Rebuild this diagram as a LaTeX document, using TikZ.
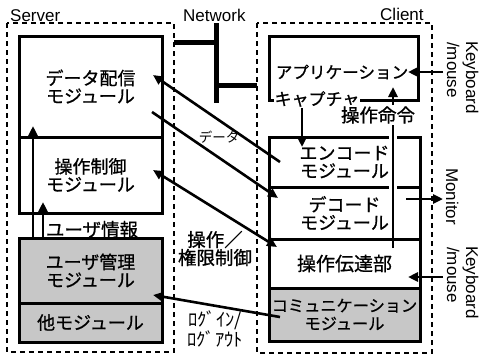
\documentclass[tikz,border=0pt]{standalone}
\usepackage{fontspec}
\setmainfont{Liberation Sans}
\newfontfamily\jp[FakeBold=0.9]{Noto Sans CJK JP}
\newfontfamily\jpl{Noto Sans CJK JP}
\usetikzlibrary{arrows.meta}
\begin{document}
\begin{tikzpicture}[x=1pt,y=-1pt,
  mod/.style={draw,line width=3pt,inner sep=0pt,outer sep=0pt,align=center,font=\jp\fontsize{18}{18}\selectfont},
  gr/.style={fill=black!22},
  frame/.style={draw,dash pattern=on 5pt off 4pt,line width=1.3pt},
  arr/.style={line width=2.6pt,-{Triangle[length=10pt,width=9pt]}},
  darr/.style={line width=2.6pt,{Triangle[length=10pt,width=9pt]}-{Triangle[length=10pt,width=9pt]}},
  lab/.style={font=\jp\fontsize{18.5}{18}\selectfont,align=center,inner sep=1pt},
  en/.style={font=\fontsize{17}{18}\selectfont,inner sep=0pt},
  bar/.style={line width=5pt},
]
\useasboundingbox (0,0) rectangle (479,356);
\fill[white] (0,0) rectangle (479,356);

% dashed frames
\draw[frame] (7,23) rectangle (174,352);
\draw[frame] (257,23) rectangle (432,353);

% network bars
\draw[bar] (174,42) -- (216,42);
\draw[bar] (216,23) -- (216,103);
\draw[bar] (216,85) -- (257,85);

% titles
\node[en,anchor=base west] (tsrv) at (10,21) {Server};
\node[en,anchor=base west] (tnet) at (183,21) {Network};
\node[en,anchor=base west] (tcli) at (380,20) {Client};
\node[en,anchor=base west,rotate=-90] (kb1a) at (466,41) {Keyboard};
\node[en,anchor=base west,rotate=-90] (kb1b) at (447,42) {/mouse};
\node[en,anchor=base west,rotate=-90] (mon) at (446,168) {Monitor};
\node[en,anchor=base west,rotate=-90] (kb2a) at (466,246) {Keyboard};
\node[en,anchor=base west,rotate=-90] (kb2b) at (447,247) {/mouse};

% server modules
\node[mod,minimum width=143pt,minimum height=101pt] (data) at (90.5,86.5) {データ配信\\モジュール};
\node[mod,minimum width=143pt,minimum height=76pt] (ctrl) at (90.5,175) {操作制御\\モジュール};
\node[mod,gr,minimum width=143pt,minimum height=65pt] (user) at (90.5,270.5) {ユーザ管理\\モジュール};
\node[mod,gr,minimum width=143pt,minimum height=39pt] (other) at (90.5,322.5) {他モジュール};

% client modules
\node[mod,minimum width=149pt,minimum height=64pt] (app) at (343.5,68) {};
\node[lab,font=\jp\fontsize{16.6}{18}\selectfont] (apptxt) at (342,72) {アプリケーション};
\node[lab,fill=white,font=\jp\fontsize{17}{18}\selectfont] (cap) at (317,99) {キャプチャ};
\node[mod,minimum width=151pt,minimum height=50pt] (enc) at (344.5,162) {エンコード\\モジュール};
\node[mod,minimum width=151pt,minimum height=52pt] (dec) at (344.5,213) {デコード\\モジュール};
\node[mod,minimum width=151pt,minimum height=49pt,font=\jp\fontsize{19}{18}\selectfont] (opt) at (344.5,263.5) {操作伝達部};
\node[mod,gr,minimum width=151pt,minimum height=53pt,font=\jp\fontsize{16.2}{18}\selectfont] (comm) at (344.5,314.5) {コミュニケーション\\モジュール};

% server internal arrows
\coordinate (u1) at (33,238);
\coordinate (u1t) at (33,126);
\coordinate (u2) at (43,238);
\coordinate (u2t) at (43,202);
\draw[arr] (u1) -- (u1t);
\draw[arr] (u2) -- (u2t);
\node[lab] (uinfo) at (92,229.5) {ユーザ情報};

% client internal arrows
\coordinate (kbin1) at (443,72);
\coordinate (kbtip1) at (408,72);
\draw[arr] (kbin1) -- (kbtip1);
\coordinate (capdn) at (302,108);
\coordinate (encin) at (302,147);
\draw[arr] (capdn) -- (encin);
\draw[white,line width=8pt] (393,131) -- (393,193);
\coordinate (cmdst) at (393,248);
\coordinate (cmdtip) at (393,87);
\draw[arr] (cmdst) -- (cmdtip);
\node[lab,fill=white] (cmd) at (378,115) {操作命令};
\coordinate (monst) at (406,199);
\coordinate (montip) at (443,199);
\draw[arr] (monst) -- (montip);
\coordinate (kbin2) at (443,277);
\coordinate (kbtip2) at (408,277);
\draw[arr] (kbin2) -- (kbtip2);

% cross arrows
\coordinate (d1s) at (280,162);
\coordinate (d1t) at (153,75);
\draw[arr] (d1s) -- (d1t);
\coordinate (d2s) at (152,112);
\coordinate (d2t) at (278,198);
\draw[arr] (d2s) -- (d2t);
\node[lab,font=\jpl\fontsize{13.5}{14}\selectfont] (ldata) at (219,137) {データ};
\coordinate (o1) at (153,170);
\coordinate (o2) at (277,247);
\draw[darr] (o1) -- (o2);
\node[lab] (lop) at (215,248.5) {操作／\\権限制御};
\coordinate (ls) at (280,317);
\coordinate (lt) at (153,295);
\draw[arr] (ls) -- (lt);
\node[lab,font=\jpl\fontsize{18.5}{18}\selectfont] (llog) at (215,329) {ﾛｸﾞｲﾝ/\\ﾛｸﾞｱｳﾄ};
\end{tikzpicture}
\end{document}
